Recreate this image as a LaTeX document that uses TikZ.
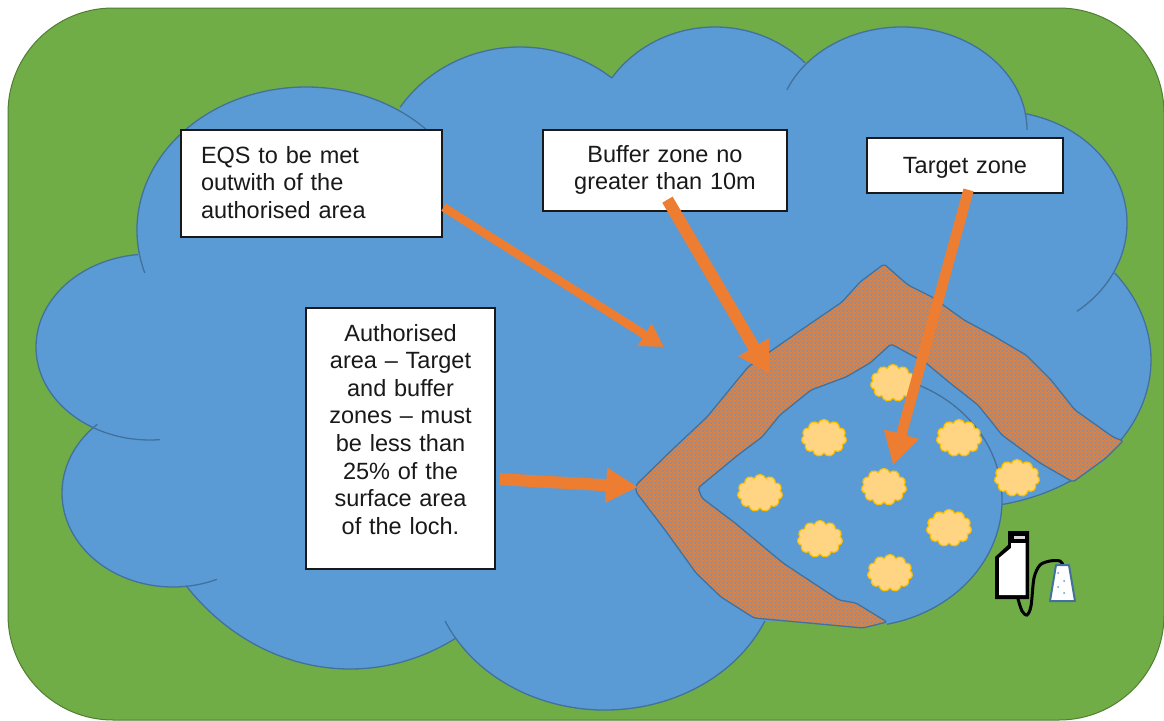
\documentclass[tikz,border=0pt]{standalone}
\usepackage{xcolor}
\usepackage{fontspec}
\usepackage{tikz}
\usetikzlibrary{arrows.meta,calc,patterns,shapes.symbols}
\setmainfont{Liberation Sans}

\definecolor{lochblue}{HTML}{5B9BD5}
\definecolor{lochedge}{HTML}{41719C}
\definecolor{landgreen}{HTML}{70AD47}
\definecolor{landedge}{HTML}{507E32}
\definecolor{zoneorange}{HTML}{ED7D31}
\definecolor{cagecream}{HTML}{FFD583}
\definecolor{cageedge}{HTML}{FFC000}

\pgfdeclarepatternformonly{zonecheck}{\pgfpointorigin}{\pgfpoint{4.2pt}{4.2pt}}{\pgfpoint{4.2pt}{4.2pt}}{
	\pgfpathrectangle{\pgfpointorigin}{\pgfpoint{2pt}{2pt}}
	\pgfpathrectangle{\pgfpoint{2.1pt}{2.1pt}}{\pgfpoint{2pt}{2pt}}
	\pgfusepath{fill}
}

\tikzset{
	lochline/.style={draw=lochedge,line width=1.3pt,line join=round},
	labelbox/.style={draw=black!90,fill=white,line width=1.5pt,inner xsep=0pt,inner ysep=0pt,text height=17pt,
		font=\fontsize{23.5}{27.6}\selectfont,text=black!90},
	cagecloud/.style={cloud,cloud puffs=11,cloud puff arc=140,cloud ignores aspect,draw=cageedge,
		fill=cagecream,line width=1.2pt,minimum width=45pt,minimum height=37pt,inner sep=0pt},
	leader/.style 2 args={draw=zoneorange,line width=#1,-{Triangle[#2]}}
}

% centre x, centre y, x radius, y radius, start angle, end angle
\newcommand{\lochlobe}[6]{-- ($(#1,#2)+(#5:#3pt and #4pt)$) arc[start angle=#5,end angle=#6,x radius=#3pt,y radius=#4pt]}
\newcommand{\lochedge}[6]{\draw[lochline] ($(#1,#2)+(#5:#3pt and #4pt)$) arc[start angle=#5,end angle=#6,x radius=#3pt,y radius=#4pt];}
\newcommand{\bufferband}{(636,485) -- (674,448) -- (707,417) -- (748,367) -- (801,330) -- (842,302) -- (860,282) -- (884,264) -- (908,285) -- (932,297) -- (964,320) -- (992,335) -- (1026,355) -- (1051,380) -- (1075,410) -- (1113,437) -- (1123,441) -- (1106,458) -- (1073,482) -- (1040,463) -- (1002,435) -- (978,405) -- (950,383) -- (926,363) -- (891,344) -- (870,363) -- (846,377) -- (811,390) -- (780,415) -- (762,437) -- (738,455) -- (698,488) -- (702,498) -- (735,523) -- (783,563) -- (839,600) -- (856,603) -- (887,622) -- (863,628) -- (754,618) -- (721,597) -- (696,573) -- (665,530) -- (636,492) -- cycle}

\begin{document}
\begin{tikzpicture}[x=1pt,y=-1pt]
	\useasboundingbox (0,0) rectangle (1164,720);
	\draw[fill=landgreen,draw=landedge,line width=1pt,rounded corners=105pt] (8,8) rectangle (1164,720);

	\fill[lochblue] (138,254)
		\lochlobe{306}{230}{169}{143}{190}{56}
		\lochlobe{520}{182}{144}{135}{146.4}{50.3}
		\lochlobe{715}{144}{125}{117}{145.5}{43.9}
		\lochlobe{902}{130}{125}{103}{141}{9.5}
		\lochlobe{997}{223}{130}{112}{77.6}{-24.8}
		\lochlobe{961}{360}{190}{148}{36}{-77.5}
		\lochlobe{857}{500}{145}{127}{-1}{-78}
		\lochlobe{605}{560}{175}{150}{-24}{-148.3}
		\lochlobe{350}{419}{220}{250}{-61.2}{-138.2}
		\lochlobe{173}{493}{111}{94}{276.7}{133}
		\lochlobe{150}{347}{114}{93}{239.4}{96}
		-- cycle;
	\lochedge{306}{230}{169}{143}{197.5}{44}
	\lochedge{520}{182}{144}{135}{146.4}{50.3}
	\lochedge{715}{144}{125}{117}{145.5}{43.9}
	\lochedge{902}{130}{125}{103}{157}{0}
	\lochedge{997}{223}{130}{112}{77.6}{-52}
	\lochedge{961}{360}{190}{148}{36}{-77.5}
	\lochedge{857}{500}{145}{127}{64.7}{-78}
	\lochedge{605}{560}{175}{150}{-24}{-156}
	\lochedge{350}{419}{220}{250}{-61.2}{-138.2}
	\lochedge{173}{493}{111}{94}{293.3}{133}
	\lochedge{150}{347}{114}{93}{275}{96}

	\fill[zoneorange,rounded corners=2pt] \bufferband;
	\fill[pattern=zonecheck,pattern color=lochblue,rounded corners=2pt] \bufferband;
	\draw[lochline,rounded corners=2pt] \bufferband;

	\node[cagecloud] (cagea) at (893,383) {};
	\node[cagecloud] (cageb) at (824,438) {};
	\node[cagecloud] (cagec) at (959,438) {};
	\node[cagecloud] (caged) at (760,493) {};
	\node[cagecloud] (cagee) at (884,487) {};
	\node[cagecloud] (cagef) at (1017,478) {};
	\node[cagecloud] (cageg) at (820,539) {};
	\node[cagecloud] (cageh) at (949,528) {};
	\node[cagecloud] (cagei) at (890,573) {};

	\fill[black] (995,599) -- (995,557) -- (1008,545) -- (1008,531) -- (1029,531) -- (1029,599) -- cycle;
	\fill[white] (999,595) -- (999,558) -- (1011,548) -- (1011,543) -- (1025.5,543) -- (1025.5,595) -- cycle;
	\fill[white!85!black] (1013.5,536) rectangle (1025,538.5);
	\draw[black,line width=3pt,line cap=round] plot[smooth] coordinates {(1018,599) (1022,611) (1027,615) (1031,606) (1034,578) (1040,565) (1050,561) (1060,561) (1063,565)};
	\draw[draw=lochedge,fill=white,line width=2pt,line join=round] (1050,601) -- (1075,601) -- (1069,565) -- (1056,565) -- cycle;
	\fill[lochblue] (1058,573) circle (1pt) (1064,581) circle (1pt) (1058,587) circle (1pt) (1064,593) circle (1pt);

	\node[labelbox,text width=221pt,inner xsep=20pt,minimum height=107pt,align=left,text depth=58pt] (eqsbox) at (311.5,183.5) {EQS to be met\\outwith of the\\authorised area};
	\node[labelbox,text width=244pt,minimum height=81pt,align=center,text depth=34pt] (bufferbox) at (665,170.5) {Buffer zone no\\greater than 10m};
	\node[labelbox,text width=196pt,minimum height=55pt,align=center,text depth=2pt] (targetbox) at (965,165.5) {Target zone};
	\node[labelbox,text width=189pt,minimum height=261pt,align=center,text depth=212pt] (authbox) at (400.5,438.5) {Authorised\\area -- Target\\and buffer\\zones -- must\\be less than\\25\% of the\\surface area\\of the loch.};

	\coordinate (eqstip) at (664,347);
	\coordinate (buffertip) at (769,373);
	\coordinate (targettip) at (893,465);
	\coordinate (authtip) at (638,487);
	\draw[leader={8.5pt}{length=23pt,width=25pt},shorten <=1pt] (eqsbox.-10) -- (eqstip);
	\draw[leader={12pt}{length=30pt,width=34pt},shorten <=-14pt] (bufferbox.-77.5) -- (buffertip);
	\draw[leader={10.5pt}{length=32pt,width=34pt},shorten <=-4pt] (targetbox.-85) -- (targettip);
	\draw[leader={12pt}{length=32pt,width=33pt},shorten <=4pt] (authbox.-23.5) -- (authtip);
\end{tikzpicture}
\end{document}
